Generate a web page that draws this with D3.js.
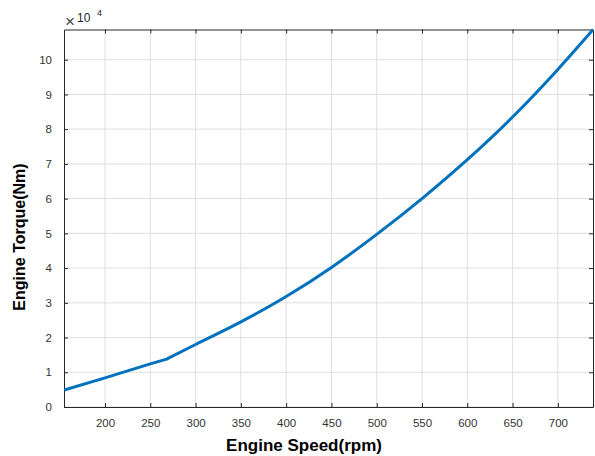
<!DOCTYPE html>
<html>
<head>
<meta charset="utf-8">
<script src="https://cdn.jsdelivr.net/npm/d3@7"></script>
<style>
  body { margin: 0; background: #fff; }
  text { font-family: "Liberation Sans", Arial, Helvetica, sans-serif; fill: #262626; }
</style>
</head>
<body>
<div id="chart"></div>
<script>
// engine speed (rpm) vs torque (x 10^4 Nm)
var speed  = [155, 200, 250, 268, 300, 350, 400, 450, 500, 550, 600, 650, 700, 739];
var torque = [0.49, 0.84, 1.24, 1.38, 1.80, 2.45, 3.18, 4.02, 4.97, 6.0, 7.12, 8.35, 9.72, 10.87];
var kneeIndex = 3; // straight part below this point, curved above
var xTicks = [200, 250, 300, 350, 400, 450, 500, 550, 600, 650, 700];
var yTicks = [0, 1, 2, 3, 4, 5, 6, 7, 8, 9, 10];

var W = 595, H = 456;
var margin = {top: 29.5, right: 2, bottom: 49, left: 64},
    width = W - margin.left - margin.right,
    height = H - margin.top - margin.bottom;

var svg = d3.select("#chart")
  .append("svg")
    .attr("width", W)
    .attr("height", H);

var g = svg.append("g")
    .attr("transform", "translate(" + margin.left + "," + margin.top + ")");

var x = d3.scaleLinear().domain([154.7, 738.8]).range([0, width]);
var y = d3.scaleLinear().domain([0, 10.87]).range([height, 0]);

// grid
g.append("g").selectAll("line")
  .data(xTicks).enter().append("line")
    .attr("x1", d => x(d)).attr("x2", d => x(d))
    .attr("y1", 0).attr("y2", height)
    .style("stroke", "#dfdfdf").style("stroke-width", 1);
g.append("g").selectAll("line")
  .data(yTicks).enter().append("line")
    .attr("x1", 0).attr("x2", width)
    .attr("y1", d => y(d)).attr("y2", d => y(d))
    .style("stroke", "#dfdfdf").style("stroke-width", 1);

// axes (ticks pointing inward, matlab style)
g.append("g")
    .attr("transform", "translate(0," + height + ")")
    .call(d3.axisBottom(x).tickValues(xTicks).tickSizeInner(-4).tickSizeOuter(0).tickPadding(12));
g.append("g")
    .call(d3.axisTop(x).tickValues(xTicks).tickSizeInner(-4).tickSizeOuter(0).tickFormat(""));
g.append("g")
    .call(d3.axisLeft(y).tickValues(yTicks).tickSizeInner(-4).tickSizeOuter(0).tickPadding(12));
g.append("g")
    .attr("transform", "translate(" + width + ",0)")
    .call(d3.axisRight(y).tickValues(yTicks).tickSizeInner(-4).tickSizeOuter(0).tickFormat(""));

g.selectAll(".domain").style("stroke", "#262626");
g.selectAll(".tick line").style("stroke", "#262626");
g.selectAll(".tick text")
    .style("font-size", "11.5px")
    .style("fill", "#333");

// line: straight segment up to the knee, smooth after it
var pts = speed.map((s, i) => [s, torque[i]]);
var straight = d3.line().x(d => x(d[0])).y(d => y(d[1]));
var smooth = d3.line().x(d => x(d[0])).y(d => y(d[1])).curve(d3.curveMonotoneX);
var pathD = straight(pts.slice(0, kneeIndex + 1)) +
            smooth(pts.slice(kneeIndex)).replace(/^M/, "L");

g.append("path")
    .attr("d", pathD)
    .style("fill", "none")
    .style("stroke", "#0072BD")
    .style("stroke-width", 3)
    .style("stroke-linejoin", "round");

// exponent label
svg.append("text").attr("x", 65).attr("y", 27).text("\u00d7")
    .style("font-size", "17px").style("fill", "#444");
svg.append("text").attr("x", 77).attr("y", 21.5).text("10")
    .style("font-size", "12px");
svg.append("text").attr("x", 97).attr("y", 16).text("4")
    .style("font-size", "9px");

// axis labels
svg.append("text")
    .attr("x", 304).attr("y", 451)
    .attr("text-anchor", "middle")
    .style("font-size", "17px").style("font-weight", "bold").style("fill", "#000")
    .text("Engine Speed(rpm)");

svg.append("text")
    .attr("transform", "translate(25,237) rotate(-90)")
    .attr("text-anchor", "middle")
    .style("font-size", "16px").style("font-weight", "bold").style("fill", "#000")
    .text("Engine Torque(Nm)");
</script>
</body>
</html>
